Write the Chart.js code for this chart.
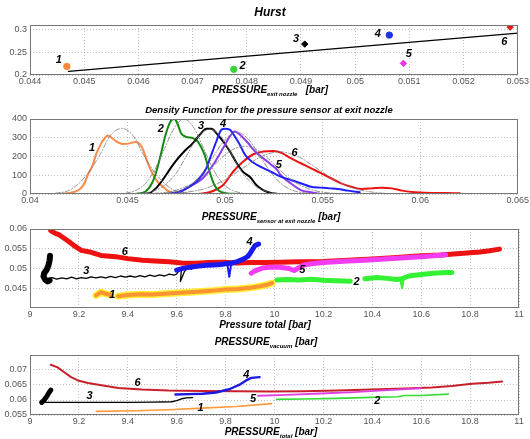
<!DOCTYPE html>
<html>
<head>
<meta charset="utf-8">
<script src="https://cdn.jsdelivr.net/npm/chart.js@4.4.0/dist/chart.umd.min.js"></script>
<style>
  body { margin: 0; background: #fff; }
  #wrap { position: relative; width: 530px; height: 439px; overflow: hidden; }
  #wrap canvas { position: absolute; left: 0; }
  .lbl {
    position: absolute; white-space: nowrap; transform: translateX(-50%);
    font: italic bold 10px 'Liberation Sans', Arial, sans-serif; color: #000; line-height: 12px;
  }
  .lbl sub { font-size: 6px; }
</style>
</head>
<body>
<div id="wrap">
  <canvas id="hurstChart" width="530" height="74" style="top:15px"></canvas>
  <canvas id="densityChart" width="530" height="99" style="top:109px"></canvas>
  <canvas id="totalChart" width="530" height="103" style="top:219px"></canvas>
  <canvas id="vacuumChart" width="530" height="84" style="top:345px"></canvas>

  <div class="lbl" style="left:270px; top:6px; font-size:12px">Hurst</div>
  <div class="lbl" style="left:270px; top:84px">PRESSURE<sub>exit nozzle</sub> &nbsp;&nbsp;[bar]</div>
  <div class="lbl" style="left:269px; top:104px; font-size:9.5px">Density Function for the pressure sensor at exit nozzle</div>
  <div class="lbl" style="left:271px; top:211px">PRESSURE<sub>sensor at exit nozzle</sub> [bar]</div>
  <div class="lbl" style="left:265px; top:319px">Pressure total [bar]</div>
  <div class="lbl" style="left:266px; top:336px">PRESSURE<sub>vacuum</sub> [bar]</div>
  <div class="lbl" style="left:271px; top:426px">PRESSURE<sub>total</sub> [bar]</div>
</div>

<script>
// ---- run labels and tick values ----
const runNames = ['1', '2', '3', '4', '5', '6'];

const hurstXTicks = [0.044, 0.045, 0.046, 0.047, 0.048, 0.049, 0.05, 0.051, 0.052, 0.053];
const hurstYTicks = [0.2, 0.25, 0.3];
const densityXTicks = [0.04, 0.045, 0.05, 0.055, 0.06, 0.065];
const densityYTicks = [0, 100, 200, 300, 400];
const totalXTicks = [9, 9.2, 9.4, 9.6, 9.8, 10, 10.2, 10.4, 10.6, 10.8, 11];
const exitYTicks = [0.045, 0.05, 0.055, 0.06];
const vacuumYTicks = [0.055, 0.06, 0.065, 0.07];

// ---- Hurst exponent vs mean exit nozzle pressure ----
const hurstPressure = [0.04468, 0.04776, 0.04907, 0.05063, 0.05089, 0.05286];
const hurstValue = [0.2188, 0.2123, 0.2674, 0.2870, 0.2254, 0.3043];
const hurstFitPressure = [0.04471, 0.053];
const hurstFitValue = [0.2080, 0.2913];
const hurstNoteP = [0.04453, 0.04792, 0.04891, 0.05042, 0.05099, 0.05275];
const hurstNoteV = [0.2326, 0.2188, 0.2783, 0.2884, 0.2449, 0.2710];

// ---- density of exit nozzle pressure, one curve per run ----
const pdfP1 = [0.0407, 0.0418, 0.0423, 0.0426, 0.0428, 0.0430, 0.0432, 0.0434, 0.04365, 0.04385, 0.0440, 0.0442, 0.0445, 0.04475, 0.0451, 0.0454, 0.0456, 0.0458, 0.0460, 0.04625, 0.0465, 0.0468, 0.0471, 0.0475, 0.0482];
const pdfD1 = [0, 3, 12, 30, 60, 110, 150, 215, 270, 300, 312, 298, 276, 267, 270, 278, 270, 235, 175, 115, 70, 40, 15, 4, 0];
const pdfP2 = [0.0454, 0.0459, 0.04625, 0.0465, 0.0467, 0.04695, 0.0472, 0.0474, 0.04755, 0.04775, 0.0480, 0.04835, 0.0486, 0.04875, 0.04895, 0.0492, 0.04945, 0.0497, 0.05005, 0.0506];
const pdfD2 = [0, 12, 57, 128, 209, 316, 387, 400, 377, 323, 305, 298, 280, 254, 209, 120, 48, 16, 4, 0];
const pdfP3 = [0.0456, 0.0461, 0.04645, 0.0468, 0.04715, 0.04745, 0.0479, 0.04835, 0.0487, 0.04905, 0.0493, 0.04955, 0.0499, 0.05025, 0.0506, 0.0509, 0.0513, 0.0516, 0.05195, 0.0523, 0.05275];
const pdfD3 = [0, 4, 30, 75, 129, 173, 227, 271, 316, 348, 348, 325, 280, 227, 164, 120, 88, 48, 21, 7, 0];
const pdfP4 = [0.0470, 0.04765, 0.04817, 0.04869, 0.04903, 0.04929, 0.04955, 0.04981, 0.04998, 0.05024, 0.0505, 0.05076, 0.05102, 0.05137, 0.0518, 0.05232, 0.05284, 0.05336, 0.05388, 0.05439, 0.05491, 0.05535, 0.05578, 0.0563, 0.0569];
const pdfD4 = [0, 12, 39, 84, 136, 209, 280, 343, 348, 343, 307, 262, 209, 173, 146, 120, 93, 75, 57, 39, 34, 30, 27, 18, 9];
const pdfP5 = [0.0470, 0.04765, 0.04817, 0.04886, 0.04938, 0.0499, 0.05024, 0.0505, 0.05076, 0.05111, 0.05154, 0.05206, 0.05232, 0.05266, 0.05284, 0.05336, 0.05388, 0.05439, 0.05491];
const pdfD5 = [0, 9, 39, 84, 155, 245, 307, 334, 316, 280, 227, 182, 160, 130, 102, 57, 21, 9, 0];
const pdfP6 = [0.04851, 0.0492, 0.0499, 0.05042, 0.05093, 0.05145, 0.05197, 0.05249, 0.05292, 0.05336, 0.05388, 0.05439, 0.05491, 0.05543, 0.05595, 0.05647, 0.05699, 0.05751, 0.05803, 0.05855, 0.05907, 0.05976, 0.06062, 0.06131, 0.06204];
const pdfD6 = [0, 9, 48, 120, 173, 212, 227, 230, 218, 191, 164, 138, 111, 84, 57, 39, 27, 30, 34, 30, 18, 9, 5, 5, 4];

// normal fits (grey dash-dot)
const fitP1 = [0.0413, 0.0419, 0.0424, 0.0430, 0.0436, 0.0441, 0.0447, 0.0453, 0.0458, 0.0464, 0.0470, 0.0475, 0.0481];
const fitD1 = [4, 15, 47, 114, 212, 309, 350, 309, 212, 114, 47, 15, 4];
const fitP2 = [0.0449, 0.0454, 0.0459, 0.0464, 0.0469, 0.0474, 0.0479, 0.0484, 0.0489, 0.0494, 0.0499, 0.0504, 0.0509];
const fitD2 = [4, 18, 54, 130, 243, 353, 400, 353, 243, 130, 54, 18, 4];
const fitP3 = [0.04575, 0.0463, 0.0469, 0.0475, 0.04805, 0.0486, 0.0492, 0.0498, 0.05035, 0.0509, 0.0515, 0.0521, 0.05265];
const fitD3 = [4, 15, 47, 112, 209, 304, 345, 304, 209, 112, 47, 15, 4];
const fitP4 = [0.0470, 0.0476, 0.0482, 0.0488, 0.0494, 0.0500, 0.0506, 0.0512, 0.0518, 0.0524, 0.0530, 0.0536, 0.0542];
const fitD4 = [4, 15, 45, 107, 200, 291, 330, 291, 200, 107, 45, 15, 4];
const fitP5 = [0.04635, 0.0471, 0.0479, 0.0487, 0.04945, 0.0502, 0.0510, 0.0518, 0.05255, 0.0533, 0.0541, 0.0549, 0.05565];
const fitD5 = [3, 11, 35, 83, 155, 225, 255, 225, 155, 83, 35, 11, 3];
const fitP6 = [0.0471, 0.04805, 0.0490, 0.04995, 0.0509, 0.05185, 0.0528, 0.05375, 0.0547, 0.05565, 0.0566, 0.05755, 0.0585, 0.0600, 0.0620];
const fitD6 = [2, 10, 30, 73, 137, 199, 225, 199, 137, 73, 30, 10, 2, 1, 0];

// ---- exit nozzle pressure vs total pressure ----
const exitTot1 = [9.27, 9.29, 9.31, 9.33, 9.345, 9.36, 9.40, 9.45, 9.50, 9.55, 9.60, 9.65, 9.70, 9.75, 9.80, 9.85, 9.90, 9.94, 9.97, 9.99];
const exitP1 = [0.0432, 0.0440, 0.0436, 0.0433, null, 0.0430, 0.0433, 0.0435, 0.0434, 0.0436, 0.0438, 0.0440, 0.0442, 0.0444, 0.0447, 0.0448, 0.0451, 0.0455, 0.0459, 0.0463];
const exitTot2 = [10.01, 10.05, 10.10, 10.15, 10.20, 10.25, 10.31, 10.34, 10.37, 10.42, 10.46, 10.50, 10.52, 10.55, 10.60, 10.65, 10.70, 10.725];
const exitP2 = [0.0471, 0.0472, 0.0471, 0.0473, 0.0470, 0.0469, 0.0468, null, 0.0474, 0.0477, 0.0475, 0.0472, 0.0474, 0.0481, 0.0485, 0.0488, 0.0490, 0.0490];
const exitTot2Spike = [10.515, 10.522, 10.528];
const exitP2Spike = [0.0471, 0.0450, 0.0473];
const exitTot3Blob = [9.082, 9.080, 9.075, 9.068, 9.058, 9.055, 9.062, 9.072, 9.080];
const exitP3Blob = [0.0532, 0.0520, 0.0507, 0.0497, 0.0488, 0.0480, 0.0472, 0.0467, 0.0470];
const exitTot3 = [9.07, 9.09, 9.11, 9.13, 9.15, 9.17, 9.19, 9.21, 9.23, 9.25, 9.27, 9.29, 9.31, 9.33, 9.35, 9.37, 9.39, 9.41, 9.43, 9.45, 9.47, 9.49, 9.51, 9.53, 9.55, 9.57, 9.59, 9.60, 9.61, 9.62, 9.615, 9.63, 9.64, 9.65, 9.66, 9.67];
const exitP3 = [0.0474, 0.0477, 0.0473, 0.0476, 0.0474, 0.0478, 0.0474, 0.0477, 0.0475, 0.0479, 0.0476, 0.0479, 0.0476, 0.0480, 0.0477, 0.0481, 0.0478, 0.0481, 0.0478, 0.0482, 0.0479, 0.0483, 0.0480, 0.0484, 0.0481, 0.0486, 0.0483, 0.0486, 0.0496, 0.0502, 0.0467, 0.0490, 0.0500, 0.0505, 0.0498, 0.0503];
const exitTot4 = [9.60, 9.63, 9.66, 9.69, 9.72, 9.75, 9.78, 9.80, 9.83, 9.85, 9.87, 9.89, 9.90, 9.91, 9.92, 9.935];
const exitP4 = [0.0496, 0.0501, 0.0504, 0.0506, 0.0508, 0.0509, 0.0510, 0.0512, 0.0514, 0.0518, 0.0523, 0.0530, 0.0538, 0.0548, 0.0558, 0.0562];
const exitTot4Spike = [9.808, 9.815, 9.822];
const exitP4Spike = [0.0508, 0.0479, 0.0509];
const exitTot5 = [9.905, 9.92, 9.95, 9.98, 10.02, 10.06, 10.08, 10.10, 10.12, 10.15, 10.20, 10.25, 10.30, 10.35, 10.40, 10.45, 10.50, 10.55, 10.60, 10.65, 10.70];
const exitP5 = [0.0488, 0.0494, 0.0501, 0.0503, 0.0503, 0.0500, 0.0495, 0.0502, 0.0509, 0.0512, 0.0515, 0.0517, 0.0519, 0.0520, 0.0522, 0.0524, 0.0526, 0.0528, 0.0530, 0.0532, 0.0535];
const exitTot6 = [9.085, 9.10, 9.12, 9.15, 9.18, 9.21, 9.25, 9.29, 9.35, 9.40, 9.46, 9.51, 9.57, 9.62, 9.68, 9.73, 9.79, 9.85, 9.90, 9.96, 10.02, 10.10, 10.20, 10.30, 10.40, 10.50, 10.60, 10.68, 10.72, 10.76, 10.80, 10.84, 10.88, 10.92];
const exitP6 = [0.0596, 0.0590, 0.0585, 0.0572, 0.0558, 0.0546, 0.0541, 0.0533, 0.0530, 0.0525, 0.0521, 0.0519, 0.0517, 0.0514, 0.0513, 0.0515, 0.0516, 0.0514, 0.0515, 0.0515, 0.0516, 0.0517, 0.0518, 0.0521, 0.0524, 0.0528, 0.0532, 0.0534, 0.0536, 0.0538, 0.0540, 0.0542, 0.0545, 0.0549];
const exitNoteTot = [9.337, 10.336, 9.23, 9.898, 10.114, 9.388];
const exitNoteP = [0.0433, 0.0467, 0.0494, 0.0566, 0.0496, 0.0543];

// ---- vacuum pressure vs total pressure ----
const vacTot1 = [9.271, 9.43, 9.567, 9.705, 9.843, 9.988];
const vacP1 = [0.0562, 0.05641, 0.05674, 0.05728, 0.05783, 0.0588];
const vacTot2 = [10.008, 10.118, 10.256, 10.394, 10.504, 10.532, 10.60, 10.711];
const vacP2 = [0.06022, 0.06033, 0.06054, 0.06087, 0.06109, 0.06152, 0.06152, 0.06196];
const vacTot3Blob = [9.048, 9.06, 9.07, 9.078, 9.085];
const vacP3Blob = [0.0592, 0.0602, 0.0614, 0.0625, 0.0633];
const vacTot3 = [9.04, 9.1, 9.2, 9.3, 9.4, 9.5, 9.58, 9.6, 9.62, 9.64, 9.665];
const vacP3 = [0.0592, 0.0592, 0.0592, 0.0592, 0.0592, 0.0593, 0.0594, 0.0598, 0.0604, 0.0607, 0.0608];
const vacTot4 = [9.595, 9.65, 9.705, 9.76, 9.815, 9.857, 9.884, 9.905, 9.939];
const vacP4 = [0.06185, 0.06196, 0.06207, 0.0625, 0.06359, 0.06511, 0.06652, 0.06739, 0.06761];
const vacTot5 = [9.933, 10.05, 10.187, 10.325, 10.463, 10.60];
const vacP5 = [0.06141, 0.06174, 0.06217, 0.06261, 0.06326, 0.06391];
const vacTot6 = [9.085, 9.113, 9.14, 9.168, 9.196, 9.237, 9.292, 9.361, 9.457, 9.567, 9.705, 9.843, 9.981, 10.118, 10.256, 10.394, 10.532, 10.642, 10.725, 10.807, 10.876, 10.931];
const vacP6 = [0.07174, 0.07087, 0.06924, 0.06761, 0.06652, 0.06565, 0.06489, 0.06402, 0.06348, 0.06315, 0.06304, 0.06293, 0.06283, 0.06293, 0.06315, 0.06348, 0.0638, 0.06413, 0.06467, 0.06543, 0.06576, 0.0662];
const vacNoteTot = [9.698, 10.42, 9.244, 9.885, 9.912, 9.44];
const vacNoteP = [0.0573, 0.0597, 0.0613, 0.0685, 0.0605, 0.0657];

// ---- styling ----
const tickFont = { family: "'Liberation Sans', Arial, sans-serif", size: 9 };
const hurstColors = ['#f78a3a', '#3ad43a', '#000000', '#1f33e6', '#ee33ee', '#e41a1a'];
const hurstMarkers = ['circle', 'circle', 'rectRot', 'circle', 'rectRot', 'rectRot'];

const zip = (xs, ys) => xs.map((x, i) => ({ x, y: ys[i] }));
const fmt = v => String(+(+v).toFixed(4));

// grey frame around the plot area
const framePlugin = {
  id: 'frame',
  afterDatasetsDraw(chart) {
    const { ctx, chartArea: a } = chart;
    ctx.save();
    ctx.strokeStyle = '#777';
    ctx.lineWidth = 1;
    ctx.strokeRect(Math.round(a.left) + 0.5, Math.round(a.top) + 0.5,
      Math.round(a.width) - 1, Math.round(a.height) - 1);
    ctx.restore();
  }
};

// run numbers written next to each curve
const notesPlugin = {
  id: 'notes',
  afterDraw(chart, args, opts) {
    if (!opts.xs) return;
    const { ctx, scales } = chart;
    ctx.save();
    ctx.font = "italic bold 11px 'Liberation Sans', Arial, sans-serif";
    ctx.fillStyle = '#000';
    ctx.textAlign = 'center';
    ctx.textBaseline = 'middle';
    runNames.forEach((t, i) => {
      ctx.fillText(t, scales.x.getPixelForValue(opts.xs[i]), scales.y.getPixelForValue(opts.ys[i]));
    });
    ctx.restore();
  }
};

function axis(min, max, ticks, isX) {
  return {
    type: 'linear',
    min, max,
    afterBuildTicks: s => { s.ticks = ticks.map(value => ({ value })); },
    afterFit: s => { if (isX) s.height = 14; else s.width = 30; },
    ticks: { callback: fmt, font: tickFont, color: '#555', padding: isX ? 1 : 3, autoSkip: false, maxRotation: 0 },
    grid: { color: '#b4b4b4', lineWidth: 0.8, drawTicks: false },
    border: { display: false, dash: [1, 2] }
  };
}

// datasets are listed in paint order (first = bottom); Chart.js paints index 0 last
function makeChart(id, xr, yr, xTicks, yTicks, layers, notes) {
  return new Chart(document.getElementById(id), {
    type: 'scatter',
    data: { datasets: layers.slice().reverse() },
    options: {
      responsive: false,
      animation: false,
      events: [],
      layout: { padding: { top: 10, right: 11, left: 0, bottom: 0 } },
      scales: { x: axis(xr[0], xr[1], xTicks, true), y: axis(yr[0], yr[1], yTicks, false) },
      plugins: { legend: { display: false }, tooltip: { enabled: false }, notes }
    },
    plugins: [framePlugin, notesPlugin]
  });
}

function curve(xs, ys, color, width, extra) {
  return Object.assign({
    data: zip(xs, ys), showLine: true, borderColor: color, borderWidth: width,
    pointRadius: 0, spanGaps: false, borderJoinStyle: 'round', borderCapStyle: 'round'
  }, extra || {});
}

// Hurst
makeChart('hurstChart', [0.044, 0.053], [0.2, 0.309], hurstXTicks, hurstYTicks, [
  curve(hurstFitPressure, hurstFitValue, '#000', 1.3),
  {
    data: zip(hurstPressure, hurstValue),
    pointBackgroundColor: hurstColors,
    pointBorderColor: hurstColors,
    pointStyle: hurstMarkers,
    pointRadius: 3.2
  }
], { xs: hurstNoteP, ys: hurstNoteV });

// density functions
const dashDot = { borderDash: [5, 2, 1, 2], cubicInterpolationMode: 'monotone' };
const smooth = { cubicInterpolationMode: 'monotone' };
makeChart('densityChart', [0.04, 0.065], [0, 400], densityXTicks, densityYTicks, [
  curve(pdfP6, pdfD6, '#ee1111', 2, smooth),
  curve(pdfP1, pdfD1, '#f98a4a', 2, smooth),
  curve(pdfP2, pdfD2, '#128a12', 2, smooth),
  curve(pdfP3, pdfD3, '#000000', 2, smooth),
  curve(pdfP5, pdfD5, '#8b3cf0', 2, smooth),
  curve(pdfP4, pdfD4, '#1e1eff', 2, smooth),
  curve(fitP1, fitD1, '#777', 0.8, dashDot),
  curve(fitP2, fitD2, '#777', 0.8, dashDot),
  curve(fitP3, fitD3, '#777', 0.8, dashDot),
  curve(fitP4, fitD4, '#777', 0.8, dashDot),
  curve(fitP5, fitD5, '#777', 0.8, dashDot),
  curve(fitP6, fitD6, '#777', 0.8, dashDot)
], { xs: [0.04318, 0.0467, 0.04877, 0.0499, 0.05275, 0.05356], ys: [245, 348, 361, 373, 155, 218] });

// exit nozzle pressure vs total pressure
makeChart('totalChart', [9, 11], [0.04, 0.06], totalXTicks, exitYTicks, [
  curve(exitTot6, exitP6, '#ee1111', 5),
  curve(exitTot1, exitP1, '#ffee33', 7),
  curve(exitTot1, exitP1, '#fa9432', 4),
  curve(exitTot2, exitP2, '#33f233', 5),
  curve(exitTot2Spike, exitP2Spike, '#33f233', 2),
  curve(exitTot5, exitP5, '#f23cf2', 5),
  curve(exitTot3Blob, exitP3Blob, '#000', 6),
  curve(exitTot3, exitP3, '#000', 1.3),
  curve(exitTot4, exitP4, '#1a1af0', 5),
  curve(exitTot4Spike, exitP4Spike, '#1a1af0', 2)
], { xs: exitNoteTot, ys: exitNoteP });

// vacuum pressure vs total pressure
makeChart('vacuumChart', [9, 11], [0.055, 0.075], totalXTicks, vacuumYTicks, [
  curve(vacTot6, vacP6, '#c8202a', 2),
  curve(vacTot5, vacP5, '#e040e0', 1.8),
  curve(vacTot2, vacP2, '#33dd33', 1.6),
  curve(vacTot1, vacP1, '#ff9a3c', 1.6),
  curve(vacTot3, vacP3, '#000', 1.4),
  curve(vacTot3Blob, vacP3Blob, '#000', 5),
  curve(vacTot4, vacP4, '#1a1ae0', 2.4)
], { xs: vacNoteTot, ys: vacNoteP });
</script>
</body>
</html>
